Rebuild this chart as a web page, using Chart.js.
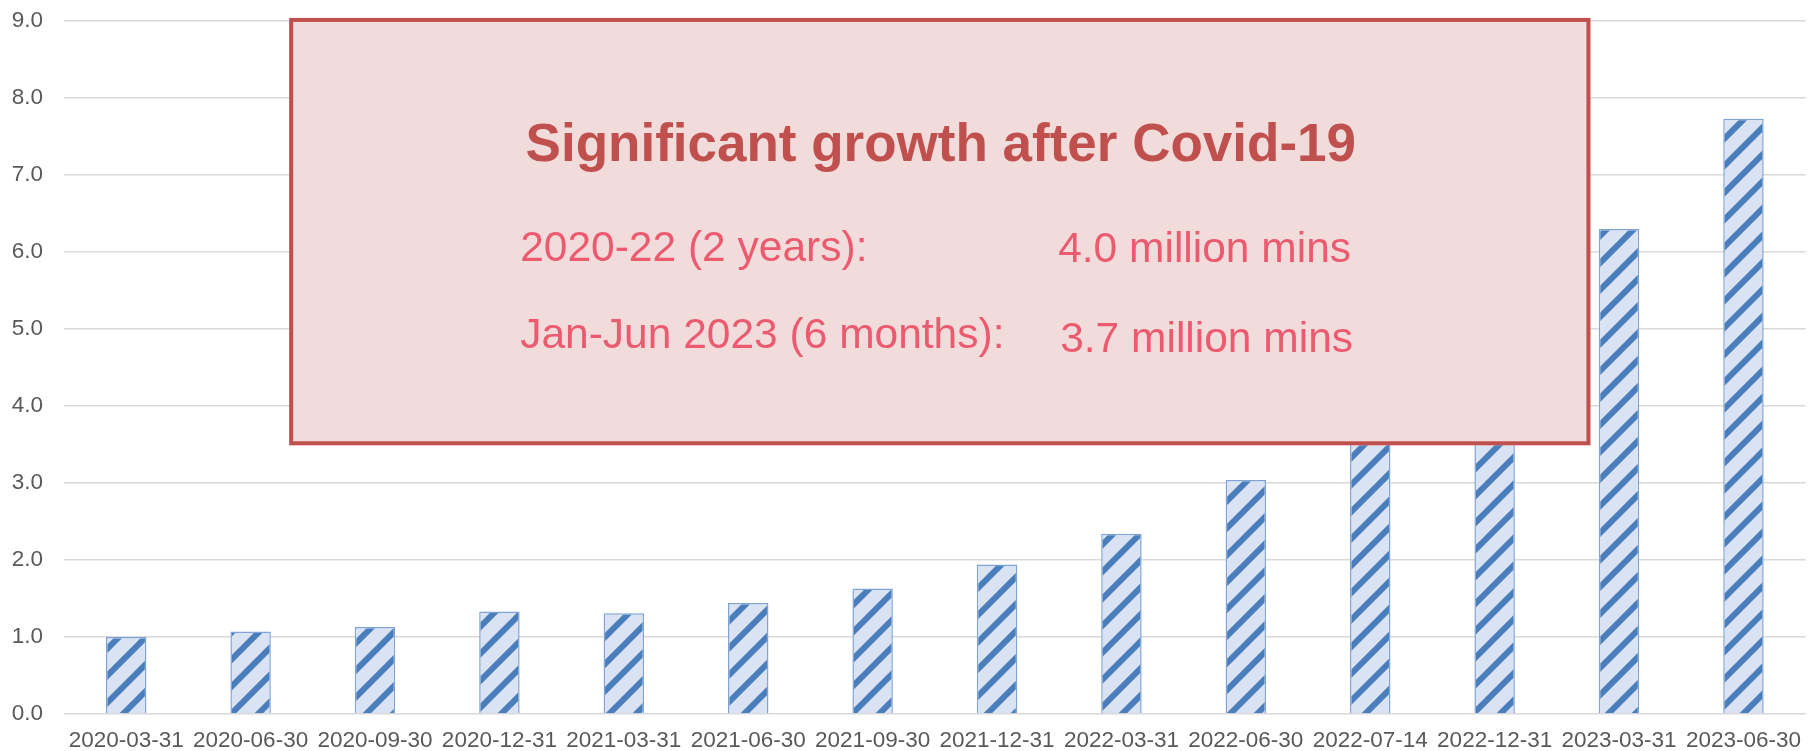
<!DOCTYPE html>
<html>
<head>
<meta charset="utf-8">
<script src="https://cdn.jsdelivr.net/npm/chart.js@4/dist/chart.umd.min.js"></script>
<style>
  html, body { margin: 0; padding: 0; background: #ffffff; }
  #wrap { position: relative; width: 1814px; height: 751px; }
</style>
</head>
<body>
<div id="wrap"><canvas id="c"></canvas></div>
<script>
// ---- data ----
const categories = ["2020-03-31","2020-06-30","2020-09-30","2020-12-31","2021-03-31","2021-06-30","2021-09-30","2021-12-31","2022-03-31","2022-06-30","2022-07-14","2022-12-31","2023-03-31","2023-06-30"];
const minutesMillions = [1.00, 1.07, 1.13, 1.33, 1.31, 1.44, 1.63, 1.94, 2.34, 3.04, 3.70, 4.03, 6.30, 7.73];
const yTicks = [0, 1, 2, 3, 4, 5, 6, 7, 8, 9];
const calloutTitle = "Significant growth after Covid-19";
const calloutLabels = ["2020-22 (2 years):", "Jan-Jun 2023 (6 months):"];
const calloutValues = ["4.0 million mins", "3.7 million mins"];
// callout extent in scale units (category index, value)
const calloutX = [1.31, 11.77];
const calloutY = [3.49, 9.04];

const FONT = '"Liberation Sans", Arial, Helvetica, sans-serif';

// striped pattern for bars (wide upward diagonal)
function makePattern() {
  const T = 27;
  const pc = document.createElement('canvas');
  pc.width = T; pc.height = T;
  const p = pc.getContext('2d');
  p.fillStyle = '#dae3f3';
  p.fillRect(0, 0, T, T);
  p.strokeStyle = '#4a7ebb';
  p.lineWidth = 6;
  p.lineCap = 'square';
  for (let k = -1; k <= 1; k++) {
    p.beginPath();
    p.moveTo(k * T, T);
    p.lineTo(k * T + T, 0);
    p.stroke();
  }
  return document.getElementById('c').getContext('2d').createPattern(pc, 'repeat');
}

const calloutPlugin = {
  id: 'callout',
  afterDatasetsDraw(chart) {
    const ctx = chart.ctx;
    const xs = chart.scales.x, ys = chart.scales.y;
    const x0 = xs.getPixelForValue(calloutX[0]);
    const x1 = xs.getPixelForValue(calloutX[1]);
    const y0 = ys.getPixelForValue(calloutY[1]);
    const y1 = ys.getPixelForValue(calloutY[0]);
    ctx.save();
    ctx.fillStyle = '#f2dcdb';
    ctx.fillRect(x0, y0, x1 - x0, y1 - y0);
    ctx.strokeStyle = '#c0504d';
    ctx.lineWidth = 4;
    ctx.strokeRect(x0 + 2, y0 + 2, x1 - x0 - 4, y1 - y0 - 4);

    ctx.textBaseline = 'alphabetic';
    ctx.fillStyle = '#c0504d';
    ctx.font = 'bold 53px ' + FONT;
    ctx.textAlign = 'center';
    ctx.fillText(calloutTitle, (x0 + x1) / 2 + 1, y0 + 143);

    ctx.fillStyle = '#ec5a70';
    ctx.font = '42.5px ' + FONT;
    ctx.textAlign = 'left';
    ctx.fillText(calloutLabels[0], x0 + 231, y0 + 243);
    ctx.fillText(calloutLabels[1], x0 + 231, y0 + 330);
    ctx.fillText(calloutValues[0], x0 + 769, y0 + 244);
    ctx.fillText(calloutValues[1], x0 + 771, y0 + 334);
    ctx.restore();
  }
};

const chart = new Chart(document.getElementById('c'), {
  type: 'bar',
  data: {
    labels: categories,
    datasets: [{
      data: minutesMillions,
      backgroundColor: makePattern(),
      borderColor: '#7fa3d6',
      borderWidth: 1.5,
      barPercentage: 0.325,
      categoryPercentage: 1.0
    }]
  },
  options: {
    responsive: true,
    maintainAspectRatio: false,
    animation: false,
    devicePixelRatio: 1,
    layout: { padding: { top: 21, right: 0, bottom: 0, left: 0 } },
    plugins: {
      legend: { display: false },
      tooltip: { enabled: false },
      title: { display: false }
    },
    scales: {
      x: {
        offset: true,
        grid: { display: false, drawTicks: false },
        border: { display: false },
        ticks: {
          color: '#595959',
          font: { family: FONT, size: 22.5 },
          padding: 13,
          maxRotation: 0,
          autoSkip: false
        },
        afterFit(scale) { scale.height = 37; }
      },
      y: {
        min: 0,
        max: 9,
        afterBuildTicks(scale) { scale.ticks = yTicks.map(v => ({ value: v })); },
        grid: { color: '#d9d9d9', lineWidth: 1.5, drawTicks: false },
        border: { display: false },
        ticks: {
          color: '#595959',
          font: { family: FONT, size: 22.5 },
          padding: 21,
          callback: v => Number(v).toFixed(1)
        },
        afterFit(scale) {
          scale.width = 64;
          scale.paddingTop = 0;
          scale.paddingBottom = 0;
        }
      }
    }
  },
  plugins: [calloutPlugin]
});
</script>
</body>
</html>
